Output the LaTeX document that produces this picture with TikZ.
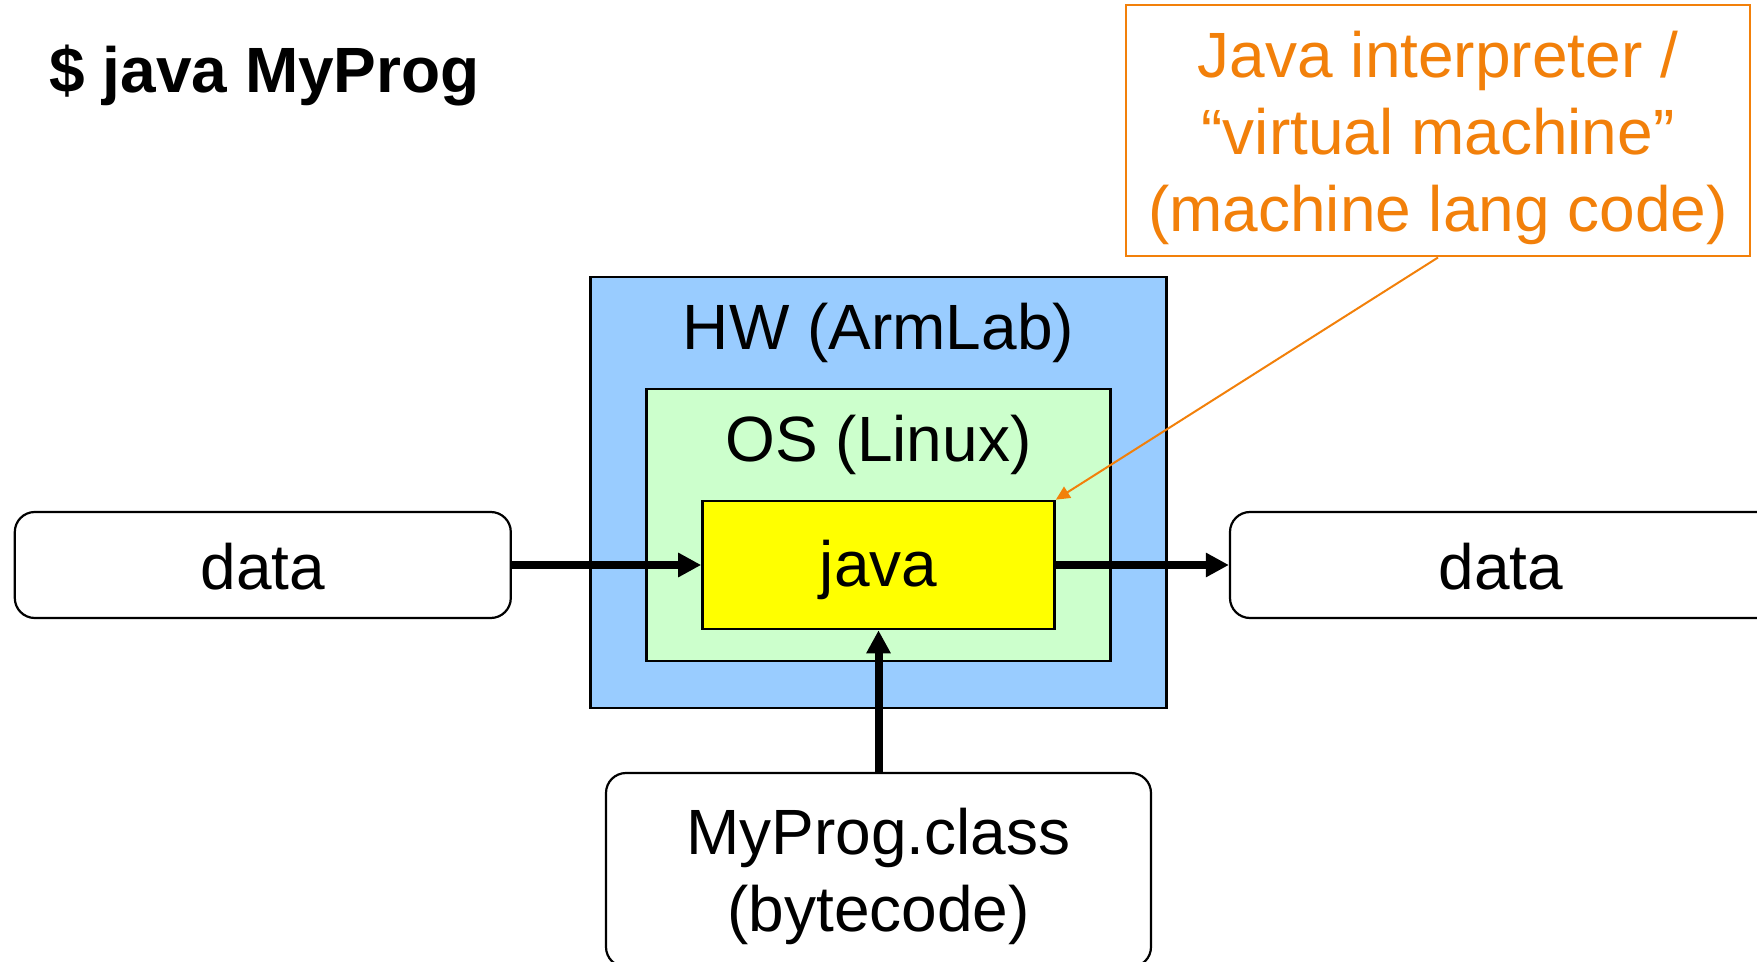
\documentclass[tikz,border=0pt]{standalone}
\usepackage{fontspec}
\setmainfont{Liberation Sans}
\usetikzlibrary{arrows.meta}
\definecolor{calloutorange}{RGB}{242,128,10}
\definecolor{hwblue}{RGB}{153,204,255}
\definecolor{osgreen}{RGB}{204,255,204}
\definecolor{javayellow}{RGB}{255,255,0}
\tikzset{
  box/.style={draw=black, line width=1.1pt, inner sep=0pt, align=center},
  roundbox/.style={box, rounded corners=10pt, fill=white},
  lbl/.style={inner sep=0pt, align=center},
  flow/.style={line width=4pt, -{Triangle[length=11.5pt,width=11.5pt]}},
  callline/.style={draw=calloutorange, line width=1pt, -{Triangle[length=7pt,width=6.5pt]}},
}
\begin{document}
\begin{tikzpicture}[x=0.5pt,y=-0.5pt, font=\fontsize{32}{38.5}\selectfont]
\useasboundingbox (0,0) rectangle (1757,962);
% title
\node[lbl, anchor=base west, font=\fontsize{32}{38.5}\selectfont\bfseries] (title) at (49,93) {\$ java MyProg};
% layered boxes
\node[box, fill=hwblue, minimum width=288pt, minimum height=215.5pt] (hw) at (878.5,492.5) {};
\node[lbl] (hwlabel) at (878.5,333) {HW (ArmLab)};
\node[box, fill=osgreen, minimum width=232pt, minimum height=136pt] (os) at (878.5,525) {};
\node[lbl] (oslabel) at (878.5,445) {OS (Linux)};
\node[box, line width=1.3pt, fill=javayellow, minimum width=176pt, minimum height=64pt, text height=25.7pt, text depth=3.9pt] (java) at (878.5,565) {java};
% data boxes
\node[roundbox, minimum width=248pt, minimum height=53pt, text height=24pt, text depth=0pt] (ldata) at (262.8,565) {data};
\node[roundbox, minimum width=285pt, minimum height=53pt] (rdata) at (1515,565) {};
\node[lbl] (rdatalabel) at (1501,567) {data};
% program box
\node[roundbox, minimum width=272.5pt, minimum height=97pt, text height=65.3pt, text depth=3.4pt] (prog) at (878.5,870) {MyProg.class\\(bytecode)};
% callout
\node[box, draw=calloutorange, fill=white, line width=1pt, text=calloutorange, minimum width=312pt, minimum height=125.5pt, text height=103.8pt, text depth=3.4pt] (callout) at (1438,131) {Java interpreter /\\``virtual machine''\\(machine lang code)};
% connectors
\draw[flow] (ldata.east) -- (java.west);
\draw[flow] (java.east) -- (rdata.west);
\draw[flow] (prog.north) -- (java.south);
\draw[callline] (callout.south) -- (java.north east);
\end{tikzpicture}
\end{document}
